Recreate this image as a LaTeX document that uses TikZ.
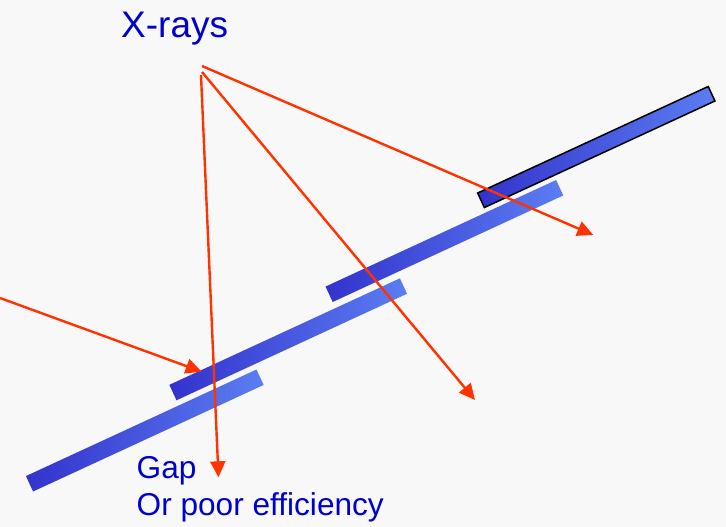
\documentclass[tikz,border=0pt]{standalone}
\usepackage{xcolor}
\usepackage{fontspec}
\setmainfont{Liberation Sans}
\usepackage{tikz}
\usetikzlibrary{arrows.meta,positioning,calc}
\definecolor{fond}{HTML}{F8F8F8}
\definecolor{rayC}{HTML}{FF3300}
\definecolor{texteB}{HTML}{0000CC}
\definecolor{modSombre}{HTML}{3333CC}
\definecolor{modClair}{HTML}{5B7DF2}
\tikzset{
  module/.style={rectangle, rotate=24.8, inner sep=0pt, minimum width=254pt,
                 minimum height=17pt, left color=modSombre, right color=modClair},
  rayon/.style={-{Triangle[length=16pt,width=15pt]}, line width=2.4pt, draw=rayC},
  etiq/.style={inner sep=0pt, text=texteB, align=left},
}
\begin{document}
\begin{tikzpicture}[x=1pt, y=-1pt]
    \useasboundingbox (0,0) rectangle (726,527);
    \fill[fond] (0,0) rectangle (726,527);
    % modules of the detector, shingled
    \node[module] (modA) at (144.8,430.5) {};
    \node[module] (modB) at (288.2,339.3) {};
    \node[module] (modC) at (444.4,241.0) {};
    \node[module, draw=black, line width=1.5pt, minimum height=16pt] (modD) at (596.3,147.0) {};
    % labels
    \node[etiq, font=\fontsize{37}{40}\selectfont, anchor=base west] (titre) at (121,37.3) {X-rays};
    \node[etiq, font=\fontsize{31.6}{37.5}\selectfont, anchor=north west] (legende) at (136.5,456)
      {Gap\\Or poor efficiency};
    % rays
    \coordinate (srcA) at (202,66);
    \coordinate (srcB) at (202,72);
    \coordinate (srcC) at (201,75);
    \coordinate (srcD) at (0,298);
    \coordinate (finA) at (593.3,235);
    \coordinate (finB) at (475,400);
    \coordinate (finC) at (218.5,477.3);
    \coordinate (finD) at (201.7,371.7);
    \draw[rayon] (srcA) -- (finA);
    \draw[rayon] (srcB) -- (finB);
    \draw[rayon] (srcC) -- (finC);
    \draw[rayon] (srcD) -- (finD);
  \end{tikzpicture}
\end{document}
